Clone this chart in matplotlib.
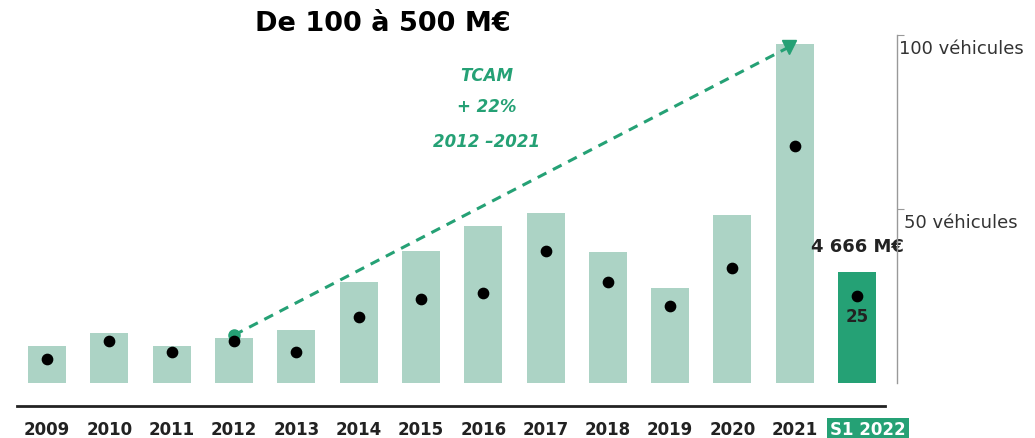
import matplotlib
matplotlib.use('Agg')
import matplotlib.pyplot as plt
import matplotlib.transforms as mtransforms

years = ['2009', '2010', '2011', '2012', '2013', '2014', '2015', '2016',
         '2017', '2018', '2019', '2020', '2021', 'S1 2022']
montants = [1550, 2100, 1550, 1890, 2230, 4250, 5550, 6600,
            7150, 5500, 4000, 7060, 14250, 4666]
vehicules = [7, 12, 9, 12, 9, 19, 24, 26, 38, 29, 22, 33, 68, 25]

light = '#acd3c5'
dark = '#25a175'
txt = '#222222'

W, H = 1035, 438
fig = plt.figure(figsize=(W / 100, H / 100), dpi=100)
# axes: left px 10, right px 897, bottom px 383, top px 35
ax = fig.add_axes([10 / W, 1 - 383 / H, 887 / W, 348 / H])
ax2 = ax.twinx()

x = list(range(len(years)))
colors = [light] * (len(years) - 1) + [dark]
ax.bar(x, montants, width=0.61, color=colors, zorder=1)
ax.set_xlim(-0.594, 13.64)
ax.set_ylim(0, 14616)

# TCAM dashed line 2012 -> 2021
i0, i1 = 3, 12
ax.plot([i0, i1 - 0.1], [montants[i0] + 120, montants[i1] - 150], ls=(0, (3.2, 2.4)),
        color=dark, lw=2.2, zorder=3)
ax.plot(i0, montants[i0] + 120, 'o', color=dark, ms=8, zorder=4)
ax.plot(i1 - 0.1, montants[i1] - 150, 'v', color=dark, ms=10, zorder=4)

ax2.scatter(x, vehicules, s=55, color='black', zorder=5)
ax2.set_ylim(0, 100)
ax2.set_zorder(ax.get_zorder() + 1)
ax2.patch.set_visible(False)

for s in ['top', 'left', 'right']:
    ax.spines[s].set_visible(False)
for s in ['top', 'left', 'bottom']:
    ax2.spines[s].set_visible(False)
ax.spines['bottom'].set_position(('outward', 16.5))
ax.spines['bottom'].set_bounds(-0.48, 13.45)
ax.spines['bottom'].set_linewidth(2)
ax.spines['bottom'].set_color('#222222')
ax.set_yticks([])
ax.set_xticks(x)
ax.set_xticklabels(years, fontsize=12, fontweight='bold', color=txt)
ax.tick_params(axis='x', length=0, pad=11)
lab = ax.get_xticklabels()[-1]
lab.set_color('white')
lab.set_bbox(dict(facecolor=dark, edgecolor='none', pad=2.2))
# the S1 2022 label sits a bit to the right of its bar
lab.set_transform(lab.get_transform() +
                  mtransforms.ScaledTranslation(11 / 100, 0, fig.dpi_scale_trans))

ax2.spines['right'].set_color('#999999')
ax2.spines['right'].set_linewidth(1)
ax2.set_yticks([50, 100])
ax2.set_yticklabels([])
ax2.tick_params(axis='y', direction='out', length=5, color='#999999')
tr = mtransforms.blended_transform_factory(ax2.transAxes, ax2.transData)
ax2.text(1.002, 98.5, '100 véhicules', transform=tr, fontsize=13,
         color='#333333', va='top', ha='left')
ax2.text(1.008, 48.5, '50 véhicules', transform=tr, fontsize=13,
         color='#333333', va='top', ha='left')

ax.text(13, montants[13] + 650, '4 666 M€', ha='center', va='bottom',
        fontsize=13, fontweight='bold', color=txt)
ax2.text(13, vehicules[13] - 3.5, str(vehicules[13]), ha='center', va='top',
         fontsize=12, fontweight='bold', color=txt)

fig.text(383 / W, 1 - 24 / H, 'De 100 à 500 M€', ha='center', va='center',
         fontsize=19.5, fontweight='bold', color='black')
for yy, t in [(76, 'TCAM'), (107, '+ 22%'), (142, '2012 –2021')]:
    fig.text(487 / W, 1 - yy / H, t, ha='center', va='center', fontsize=12,
             fontweight='bold', fontstyle='italic', color=dark)

fig.savefig('out.png', dpi=100)
